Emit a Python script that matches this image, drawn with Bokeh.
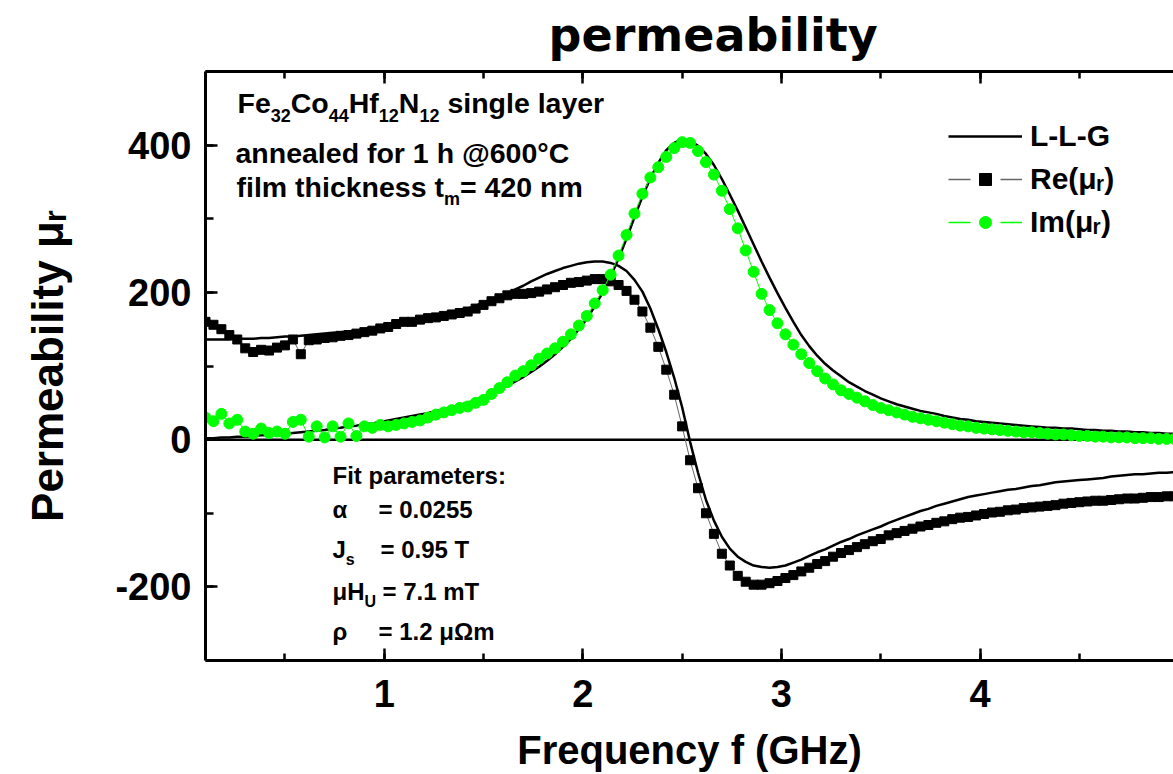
from bokeh.plotting import figure
from bokeh.models import (Range1d, LinearAxis, SingleIntervalTicker, Span, Label,
                          Legend, LegendItem, CustomJSTickFormatter)
from bokeh.embed import file_html
from bokeh.resources import INLINE

# ---------------- data ----------------
freq = [0.10, 0.14, 0.18, 0.22, 0.26, 0.30, 0.34, 0.38, 0.42, 0.46,
        0.50, 0.54, 0.58, 0.62, 0.66, 0.70, 0.74, 0.78, 0.82, 0.86,
        0.90, 0.94, 0.98, 1.02, 1.06, 1.10, 1.14, 1.18, 1.22, 1.26,
        1.30, 1.34, 1.38, 1.42, 1.46, 1.50, 1.54, 1.58, 1.62, 1.66,
        1.70, 1.74, 1.78, 1.82, 1.86, 1.90, 1.94, 1.98, 2.02, 2.06,
        2.10, 2.14, 2.18, 2.22, 2.26, 2.30, 2.34, 2.38, 2.42, 2.46,
        2.50, 2.54, 2.58, 2.62, 2.66, 2.70, 2.74, 2.78, 2.82, 2.86,
        2.90, 2.94, 2.98, 3.02, 3.06, 3.10, 3.14, 3.18, 3.22, 3.26,
        3.30, 3.34, 3.38, 3.42, 3.46, 3.50, 3.54, 3.58, 3.62, 3.66,
        3.70, 3.74, 3.78, 3.82, 3.86, 3.90, 3.94, 3.98, 4.02, 4.06,
        4.10, 4.14, 4.18, 4.22, 4.26, 4.30, 4.34, 4.38, 4.42, 4.46,
        4.50, 4.54, 4.58, 4.62, 4.66, 4.70, 4.74, 4.78, 4.82, 4.86,
        4.90, 4.94, 4.98]

re_meas = [160, 156, 150, 142, 136, 124, 119, 122, 121, 125,
           128, 136, 116, 135, 136, 138, 139, 141, 142, 144,
           146, 148, 151, 153, 157, 160, 160, 163, 165, 166,
           168, 170, 172, 174, 178, 183, 188, 192, 196, 198,
           198, 199, 201, 204, 207, 210, 213, 214, 216, 218,
           218, 215, 210, 202, 190, 174, 152, 126, 95, 61,
           18, -28, -66, -100, -128, -155, -171, -185, -193, -197,
           -197, -195, -192, -188, -184, -179, -174, -169, -165, -159,
           -154, -150, -146, -142, -138, -135, -130, -127, -124, -121,
           -118, -116, -113, -111, -108, -106, -105, -103, -101, -99,
           -98, -96, -95, -93, -92, -91, -90, -89, -87, -86,
           -85, -84, -83, -83, -82, -81, -80, -80, -79, -78,
           -78, -77, -77]

im_meas = [30, 25, 35, 22, 27, 11, 8, 15, 9, 11,
           8, 24, 27, 4, 18, 3, 18, 4, 22, 5,
           18, 16, 20, 18, 20, 22, 24, 26, 30, 34,
           37, 40, 43, 45, 50, 54, 62, 70, 78, 87,
           93, 101, 110, 117, 124, 133, 143, 155, 168, 185,
           203, 224, 250, 278, 307, 334, 356, 370, 384, 396,
           404, 403, 392, 377, 360, 338, 313, 287, 257, 228,
           198, 176, 158, 143, 129, 116, 104, 93, 83, 75,
           67, 62, 57, 52, 47, 43, 40, 37, 34, 31,
           29, 27, 25, 23, 21, 19, 18, 16, 15, 14,
           13, 12, 11, 10, 10, 9, 8, 7, 7, 6,
           5, 5, 4, 4, 3, 3, 3, 2, 2, 2,
           1, 1, 1]

re_llg = [136, 136, 136, 136, 137, 137, 137, 138, 138, 139,
          140, 140, 141, 142, 143, 144, 145, 146, 147, 148,
          150, 151, 153, 154, 156, 158, 160, 162, 164, 167,
          170, 172, 175, 178, 182, 186, 190, 194, 199, 204,
          209, 215, 220, 225, 229, 233, 236, 239, 241, 242,
          242, 240, 236, 229, 217, 201, 178, 150, 119, 84,
          44, -3, -45, -82, -110, -132, -148, -159, -166, -171,
          -173, -174, -173, -171, -167, -163, -158, -153, -149, -144,
          -139, -135, -130, -126, -122, -118, -113, -109, -105, -101,
          -97, -94, -90, -87, -84, -81, -78, -76, -74, -72,
          -70, -68, -67, -65, -63, -62, -60, -58, -57, -56,
          -55, -54, -53, -52, -50, -49, -48, -47, -47, -46,
          -45, -45, -44]

im_llg = [2, 2, 3, 3, 4, 4, 5, 6, 6, 7,
          8, 9, 10, 11, 12, 13, 15, 16, 18, 19,
          21, 22, 24, 26, 28, 30, 32, 34, 36, 39,
          41, 44, 47, 50, 54, 58, 63, 68, 73, 79,
          85, 92, 99, 107, 116, 126, 137, 150, 164, 181,
          200, 222, 246, 273, 302, 330, 355, 376, 393, 403,
          408, 406, 399, 388, 373, 354, 333, 311, 288, 265,
          242, 220, 199, 179, 160, 142, 127, 114, 103, 94,
          86, 78, 72, 66, 61, 56, 52, 48, 45, 42,
          39, 37, 35, 32, 30, 28, 27, 25, 24, 23,
          22, 21, 20, 19, 18, 17, 16, 16, 15, 15,
          14, 13, 13, 12, 12, 11, 11, 10, 10, 9,
          9, 8, 8]

legend_labels = ["L-L-G", "Re(μᵣ)", "Im(μᵣ)"]

# ---------------- figure ----------------
FL, FR, FT, FB = 205, 1173, 71, 660   # frame edges in page pixels
X0 = 0.1
X1 = X0 + (FR - FL) / 198.6
Y0, Y1 = -300, 500

GREEN = "#00ff00"
FONT = "Liberation Sans"
NAN = float("nan")

p = figure(width=1173, height=774, output_backend="svg", toolbar_location=None,
           x_range=Range1d(X0, X1), y_range=Range1d(Y0, Y1),
           x_axis_type=None, y_axis_type=None,
           min_border_left=FL, min_border_right=0,
           min_border_top=FT, min_border_bottom=774 - FB)
p.outline_line_color = None
p.background_fill_color = "white"
p.border_fill_color = "white"

# title (the reference shows only its lower edge, at the very top)
p.title.text = "permeability"
p.title.text_font = "DejaVu Sans"
p.title.text_font_style = "bold"
p.title.text_font_size = "46px"
p.title.text_color = "black"
p.title.align = "left"
p.title.vertical_align = "top"
p.title.offset = 548 - FL
p.title.standoff = 15


def dx(px):
    return X0 + (px - FL) * (X1 - X0) / (FR - FL)


def dy(py):
    return Y1 - (py - FT) * (Y1 - Y0) / (FB - FT)


def style_axis(ax, major_in, minor_in):
    ax.axis_line_width = 3
    ax.axis_line_color = "black"
    ax.major_tick_in = major_in
    ax.major_tick_out = 0
    ax.minor_tick_in = minor_in
    ax.minor_tick_out = 0
    ax.major_tick_line_width = 2.5
    ax.minor_tick_line_width = 2.5
    ax.major_tick_line_color = "black"
    ax.minor_tick_line_color = "black"
    ax.major_label_text_font = FONT
    ax.major_label_text_font_style = "bold"
    ax.major_label_text_font_size = "38px"
    ax.major_label_text_color = "black"


xb = LinearAxis(ticker=SingleIntervalTicker(interval=1, num_minor_ticks=2),
                axis_label="Frequency f (GHz)")
style_axis(xb, 12, 7)
xb.major_label_standoff = 19
xb.axis_label_text_font = FONT
xb.axis_label_text_font_style = "bold"
xb.axis_label_text_font_size = "40px"
xb.axis_label_text_color = "black"
xb.axis_label_standoff = 18
p.add_layout(xb, "below")

xt = LinearAxis(ticker=SingleIntervalTicker(interval=1, num_minor_ticks=2),
                formatter=CustomJSTickFormatter(code="return ''"))
style_axis(xt, 12, 7)
xt.major_label_standoff = 0
xt.major_label_text_font_size = "1px"
p.add_layout(xt, "above")

yl = LinearAxis(ticker=SingleIntervalTicker(interval=200, num_minor_ticks=2),
                axis_label="Permeability μᵣ")
style_axis(yl, 12, 8)
yl.major_label_standoff = 14
yl.major_label_overrides = {-200: "-200", 0: "0", 200: "200", 400: "400"}
yl.axis_label_text_font = FONT
yl.axis_label_text_font_style = "bold"
yl.axis_label_text_font_size = "44px"
yl.axis_label_text_color = "black"
yl.axis_label_standoff = 40
p.add_layout(yl, "left")

# zero line
p.add_layout(Span(location=0, dimension="width", line_color="black", line_width=2.5,
                  level="underlay"))

# fit curves
llg_re = p.line(freq, re_llg, line_color="black", line_width=2.5)
p.line(freq, im_llg, line_color="black", line_width=2.5)

# measured Re
p.line(freq, re_meas, line_color="#666666", line_width=1)
p.scatter(freq, re_meas, marker="square", size=9, fill_color="black", line_color="black")

# measured Im
p.line(freq, im_meas, line_color=GREEN, line_width=1)
p.scatter(freq, im_meas, marker="circle", size=11, fill_color=GREEN, line_color=GREEN)

# legend-only renderers (nothing drawn in the plot)
leg_re_line = p.line([NAN], [NAN], line_color="#666666", line_width=1.5, line_dash="22 30")
leg_re_mark = p.scatter([NAN], [NAN], marker="square", size=10, fill_color="black",
                        line_color="black")
leg_im_line = p.line([NAN], [NAN], line_color=GREEN, line_width=1.5, line_dash="22 30")
leg_im_mark = p.scatter([NAN], [NAN], marker="circle", size=11, fill_color=GREEN,
                        line_color=GREEN)

legend = Legend(items=[LegendItem(label=legend_labels[0], renderers=[llg_re]),
                       LegendItem(label=legend_labels[1], renderers=[leg_re_line, leg_re_mark]),
                       LegendItem(label=legend_labels[2], renderers=[leg_im_line, leg_im_mark])],
                location=(948 - FL, 421),
                glyph_width=74, glyph_height=30, label_standoff=8, spacing=9,
                padding=0, margin=0, border_line_color=None, background_fill_alpha=0,
                label_text_font=FONT, label_text_font_style="bold",
                label_text_font_size="30px", label_text_color="black")
p.add_layout(legend)

# ---------------- texts inside the frame ----------------
W = {' ': 278, '!': 333, '(': 333, ')': 333, '-': 333, '.': 278, ':': 333, '=': 584,
     '@': 975, '°': 400, 'μ': 611, 'α': 600, 'ρ': 611, 'Ω': 768}
for ch in "0123456789":
    W[ch] = 556
W.update(dict(zip("ABCDEFGHIJKLMNOPQRSTUVWXYZ",
                  [722, 722, 722, 722, 667, 611, 778, 722, 278, 556, 722, 611, 833,
                   722, 778, 667, 778, 722, 667, 611, 722, 667, 944, 667, 667, 611])))
W.update(dict(zip("abcdefghijklmnopqrstuvwxyz",
                  [556, 611, 556, 611, 556, 333, 611, 611, 278, 278, 556, 278, 889,
                   611, 611, 611, 611, 389, 556, 333, 611, 556, 778, 556, 556, 500])))


def tw(s, size):
    return sum(W.get(c, 600) for c in s) * size / 1000.0


def put(text, px, py, size, align="left", font=FONT):
    p.add_layout(Label(x=dx(px), y=dy(py), text=text, text_font=font,
                       text_font_size=f"{size}px", text_font_style="bold",
                       text_align=align, text_baseline="alphabetic", text_color="black"))


def rich(parts, px, py, size, sub_size, drop):
    x = px
    for t, sub in parts:
        lead = len(t) - len(t.lstrip(" "))
        s = sub_size if sub else size
        x += tw(" " * lead, s)
        put(t.lstrip(" "), x, py + (drop if sub else 0), s)
        x += tw(t.lstrip(" "), s)


# sample description
rich([("Fe", 0), ("32", 1), ("Co", 0), ("44", 1), ("Hf", 0), ("12", 1), ("N", 0), ("12", 1),
      (" single layer", 0)], 237, 102, 28.5, 18, 13)
put("annealed for 1 h @600°C", 235, 152, 28.5)
rich([("film thickness t", 0), ("m", 1), ("= 420 nm", 0)], 236, 186, 28.5, 18, 12)

# fit parameters
put("Fit parameters:", 332, 475, 24)
put("α", 332, 509, 24)
put("= 0.0255", 378, 509, 24)
rich([("J", 0), ("s", 1)], 332, 549, 24, 16, 10)
put("= 0.95 T", 380, 549, 24)
rich([("μH", 0), ("U", 1)], 332, 591, 24, 16, 10)
put("= 7.1 mT", 382, 591, 24)
put("ρ", 332, 631, 24)
put("= 1.2 μΩm", 378, 631, 24)

open("out.html", "w").write(file_html(p, INLINE))
